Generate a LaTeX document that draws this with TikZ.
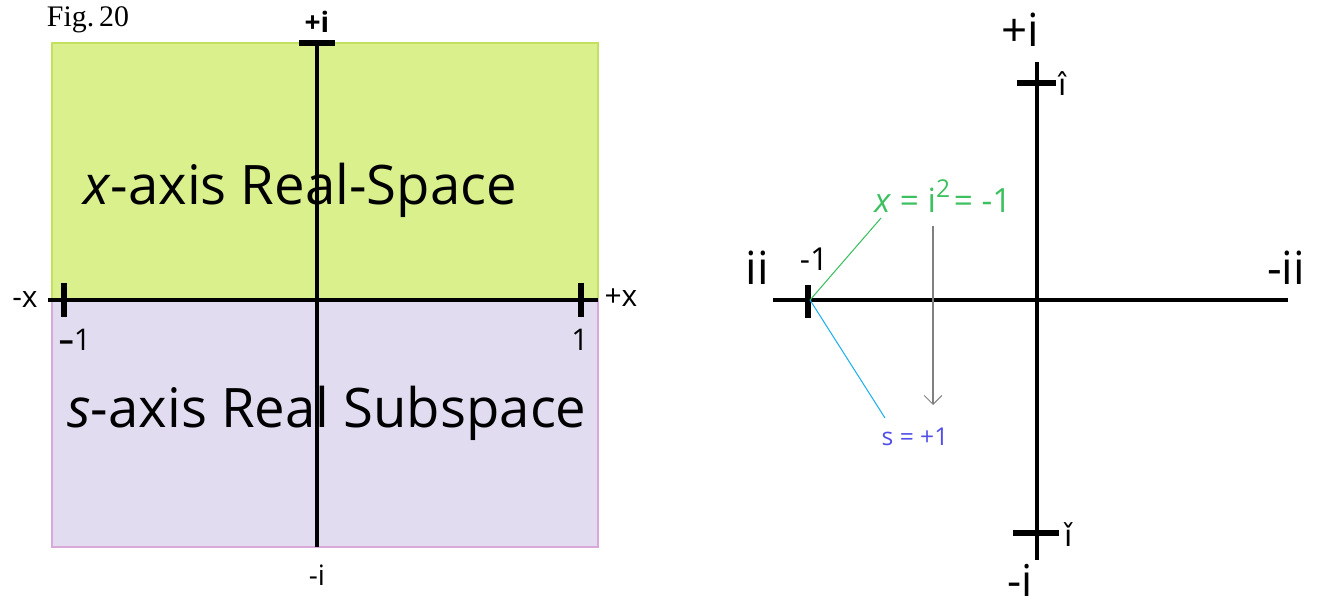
\documentclass[tikz,border=0pt]{standalone}
\usepackage{fontspec}
\setmainfont{Open Sans}
\newfontfamily\figfont{Liberation Serif}
\newfontfamily\djv{DejaVu Sans}
\usetikzlibrary{arrows.meta}
\definecolor{greenfill}{HTML}{D9F08C}
\definecolor{greenedge}{HTML}{C4E060}
\definecolor{purpfill}{HTML}{E1DCF0}
\definecolor{purpedge}{HTML}{D8A8D8}
\definecolor{lblgreen}{HTML}{3CC060}
\definecolor{lblblue}{HTML}{20B0F0}
\definecolor{lblpurple}{HTML}{5050E8}
\tikzset{
  axis/.style={line width=2.2pt},
  tick/.style={line width=3.2pt},
  fs/.style={font=\fontsize{#1}{#1}\selectfont, inner sep=0pt},
}
\begin{document}
\begin{tikzpicture}[x=0.02cm,y=-0.02cm]
\useasboundingbox (0,0) rectangle (1317,606);
% left panel
\fill[greenfill,draw=greenedge,line width=0.6pt] (52,43) rectangle (598,300);
\fill[purpfill,draw=purpedge,line width=0.6pt] (52,300) rectangle (598,547);
\coordinate (ltop) at (317,43);
\coordinate (lbot) at (317,547);
\coordinate (lleft) at (48,300);
\coordinate (lright) at (598,300);
\draw[axis] (ltop) -- (lbot);
\draw[axis] (lleft) -- (lright);
\draw[tick] (299,43) -- (335,43);
\draw[tick] (64,283) -- (64,317);
\draw[tick] (581,283) -- (581,317);
\node[fs=17pt] (fig) at (88,20) {\figfont Fig.\,20};
\node[fs=16pt] (lpi) at (317,22) {\bfseries +i};
\node[fs=17pt] (lmx) at (25,299) {-x};
\node[fs=17pt] (lpx) at (621,298) {+x};
\node[fs=17pt] (lm1) at (75,340) {\textbf{–}1};
\node[fs=17pt] (l1) at (580,340) {1};
\node[fs=16pt] (lmi) at (317,575) {-i};
\node[fs=31pt] (xaxis) at (300,190) {\textit{x}-axis Real-Space};
\node[fs=31pt] (saxis) at (327,413) {\textit{s}-axis Real Subspace};
% right panel
\coordinate (rl) at (773,300);
\coordinate (rr) at (1288,300);
\coordinate (rt) at (1037,62);
\coordinate (rb) at (1037,560);
\draw[axis] (rl) -- (rr);
\draw[axis] (rt) -- (rb);
\draw[tick] (1017,83) -- (1056,83);
\draw[tick] (1013,533) -- (1059,533);
\draw[tick] (808,285) -- (808,318);
\coordinate (m1) at (810,300);
\node[fs=26pt] (rpi) at (1020,30) {+i};
\node[fs=25pt] (rmi) at (1020,580) {-i};
\node[fs=26pt] (rii) at (757,268) {ii};
\node[fs=26pt] (rmii) at (1286,268) {-ii};
\node[fs=18pt] (rm1) at (814,259) {-1};
\node[fs=17pt] (hati) at (1063,84) {\djv î};
\node[fs=17pt] (checki) at (1069,535) {\djv ǐ};
\node[fs=19pt,text=lblgreen,anchor=west] (xeq) at (874,196) {\textit{x} = i\raisebox{0.85ex}{\fontsize{14pt}{14pt}\selectfont 2}\kern-0.15em{} = -1};
\coordinate (gend) at (881,218);
\draw[lblgreen,line width=0.6pt] (m1) -- (gend);
\coordinate (bend) at (885,418);
\draw[lblblue,line width=0.6pt] (m1) -- (bend);
\node[fs=14pt,text=lblpurple] (seq) at (915,437) {s = +1};
\coordinate (atop) at (933,226);
\coordinate (abot) at (933,405);
\draw[gray,line width=0.6pt,-{Straight Barb[length=5pt,width=10pt]}] (atop) -- (abot);
\end{tikzpicture}
\end{document}
